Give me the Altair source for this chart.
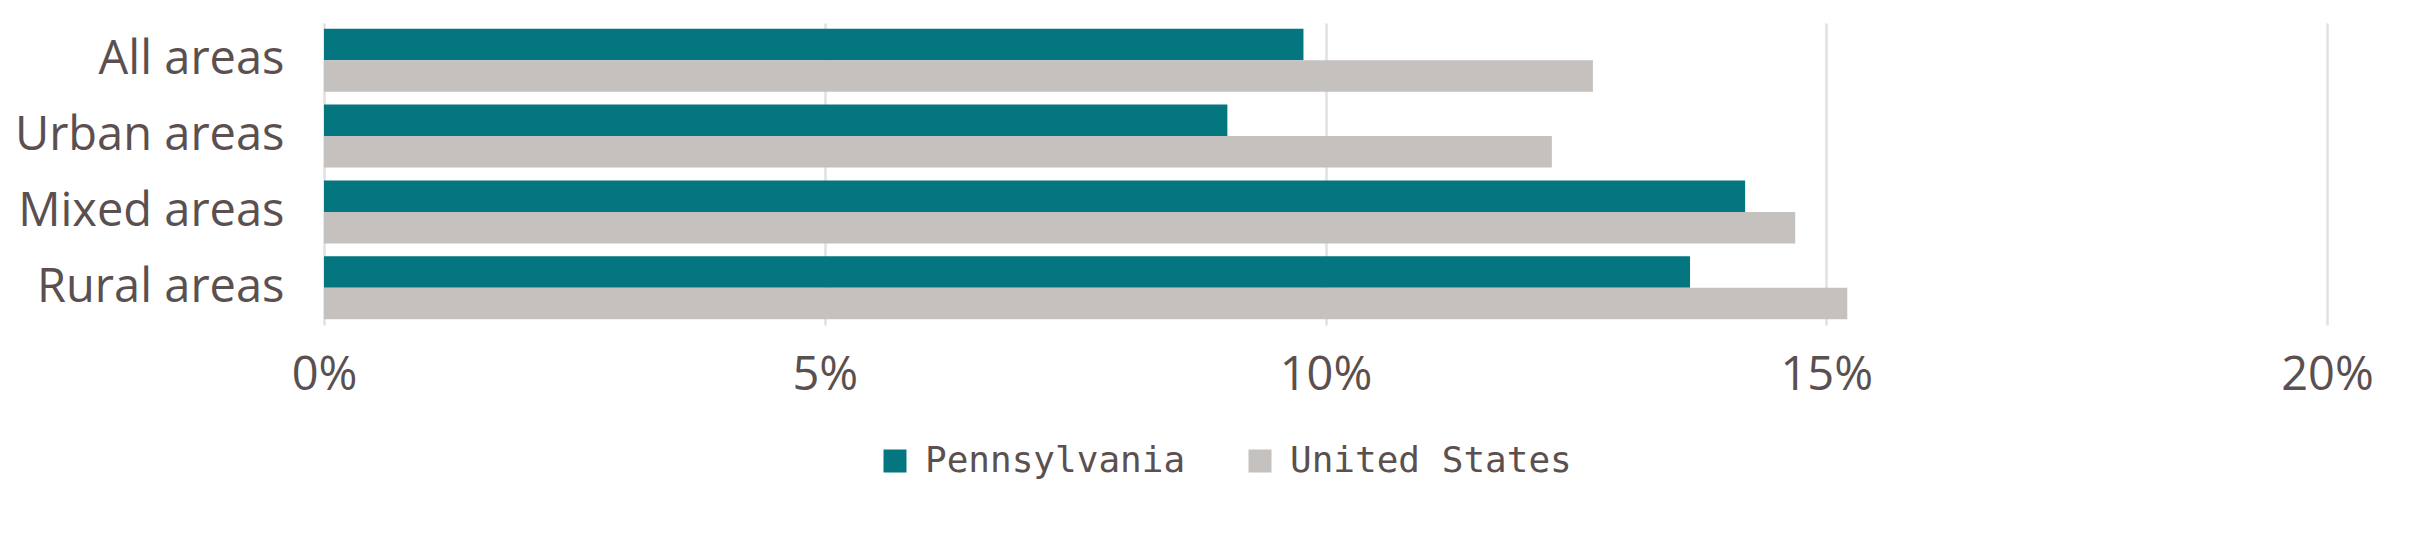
import altair as alt
import pandas as pd

categories = ["All areas", "Urban areas", "Mixed areas", "Rural areas"]
series = ["Pennsylvania", "United States"]
pennsylvania = [0.0978, 0.0902, 0.1419, 0.1364]
united_states = [0.1267, 0.1226, 0.1469, 0.1521]
x_ticks = [0, 0.05, 0.10, 0.15, 0.20]
colors = ["#03767F", "#C4C1BF"]

rows = []
for i, c in enumerate(categories):
    rows.append({"area": c, "series": series[0], "value": pennsylvania[i]})
    rows.append({"area": c, "series": series[1], "value": united_states[i]})
df = pd.DataFrame(rows)

TEXT = "#5B4F4F"

chart = alt.Chart(df).mark_bar().encode(
    y=alt.Y("area:N", sort=categories,
            scale=alt.Scale(paddingInner=0.17, paddingOuter=0.075),
            axis=alt.Axis(title=None, domain=False, ticks=False, grid=False,
                          labelFont="Open Sans", labelFontSize=47, labelColor=TEXT,
                          labelPadding=40, labelLimit=0, minExtent=316, maxExtent=316)),
    yOffset=alt.YOffset("series:N", sort=series),
    x=alt.X("value:Q", scale=alt.Scale(domain=[0, 0.2]),
            axis=alt.Axis(title=None, values=x_ticks, format=".0%", domain=False,
                          ticks=False, grid=True, gridColor="#E2E0E0", gridWidth=2.5,
                          labelFont="Open Sans", labelFontSize=47, labelColor=TEXT,
                          labelFlush=False, labelPadding=27, labelLimit=0)),
    color=alt.Color("series:N", sort=series,
                    scale=alt.Scale(domain=series, range=colors),
                    legend=alt.Legend(title=None, orient="none", direction="horizontal",
                                      legendX=553, legendY=420,
                                      symbolType="square", symbolSize=529,
                                      symbolStrokeWidth=0, symbolOffset=0,
                                      labelFont="DejaVu Sans Mono", labelFontSize=36,
                                      labelColor=TEXT, labelOffset=12, labelLimit=0,
                                      columnPadding=56)),
).properties(
    width=2003, height=302,
    padding={"left": 0, "top": 15, "right": 0, "bottom": 0},
).configure_view(stroke=None)

chart.save("out.html", embed_options={"renderer": "svg", "actions": False})
